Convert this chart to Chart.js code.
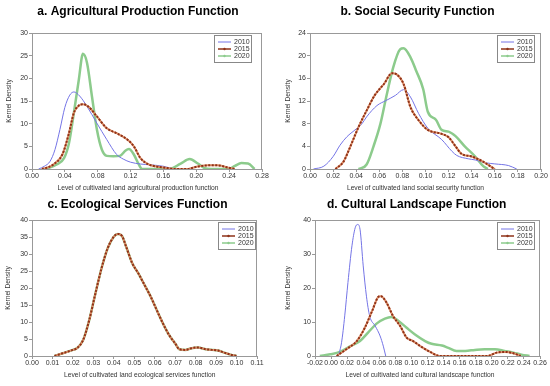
<!DOCTYPE html>
<html>
<head>
<meta charset="utf-8">
<script src="https://cdn.jsdelivr.net/npm/chart.js@4.4.0/dist/chart.umd.min.js"></script>
<style>
  body { margin: 0; background: #fff; }
  #wrap { position: relative; width: 550px; height: 386px; }
  .panel { position: absolute; width: 275px; height: 193px; }
</style>
</head>
<body>
<div id="wrap">
  <div class="panel" style="left:0;top:0"><canvas id="chartA" width="275" height="193"></canvas></div>
  <div class="panel" style="left:275px;top:0"><canvas id="chartB" width="275" height="193"></canvas></div>
  <div class="panel" style="left:0;top:193px"><canvas id="chartC" width="275" height="193"></canvas></div>
  <div class="panel" style="left:275px;top:193px"><canvas id="chartD" width="275" height="193"></canvas></div>
</div>
<script>
// Series labels
const years = ['2010', '2015', '2020'];

// a. Agricultural production - [level, density]
const agri2010 = [[0.008,0],[0.015,0.6],[0.022,1.7],[0.028,4.3],[0.034,8.7],[0.040,13.6],[0.046,16.3],[0.051,17.0],[0.058,16.1],[0.067,13.8],[0.079,10.1],[0.091,6.5],[0.103,3.2],[0.111,2.2],[0.120,1.5],[0.132,1.1],[0.145,0.9],[0.160,0.6],[0.172,0]];
const agri2015 = [[0.012,0],[0.020,0.4],[0.026,1.0],[0.037,3.2],[0.045,7.9],[0.051,12.4],[0.057,14.0],[0.062,14.3],[0.069,13.7],[0.079,11.6],[0.091,9.0],[0.103,7.9],[0.116,6.5],[0.124,5.0],[0.132,2.4],[0.142,1.0],[0.150,0.6],[0.165,0.2],[0.175,0],[0.190,0],[0.198,0.4],[0.214,0.8],[0.226,0.8],[0.239,0.3],[0.247,0]];
const agri2020 = [[0.016,0],[0.030,1.0],[0.039,2.4],[0.045,5.7],[0.051,12.4],[0.057,19.7],[0.062,25.4],[0.067,23.4],[0.073,16.0],[0.079,8.7],[0.085,4.3],[0.091,2.9],[0.099,2.8],[0.107,2.9],[0.114,4.1],[0.118,4.4],[0.124,3.2],[0.130,1.0],[0.134,0],[0.167,0],[0.181,1.2],[0.192,2.2],[0.202,1.2],[0.210,0.2],[0.218,0],[0.239,0],[0.247,0.7],[0.255,1.3],[0.263,1.2],[0.271,0]];

// b. Social security
const soc2010 = [[0.003,0],[0.012,0.5],[0.020,2.2],[0.026,4.2],[0.032,5.7],[0.039,6.9],[0.045,8.0],[0.049,9.2],[0.058,11.2],[0.066,12.1],[0.074,13.0],[0.081,14.0],[0.087,12.7],[0.094,9.8],[0.102,7.2],[0.114,5.2],[0.123,3.1],[0.127,2.4],[0.137,1.8],[0.143,1.6],[0.152,1.1],[0.160,0.9],[0.172,0.6],[0.179,0]];
const soc2015 = [[0.022,0],[0.029,1.3],[0.035,4.0],[0.042,7.4],[0.049,10.3],[0.056,13.0],[0.064,15.0],[0.071,16.9],[0.075,16.7],[0.081,15.0],[0.087,10.9],[0.094,8.6],[0.102,6.9],[0.114,6.2],[0.120,5.6],[0.126,4.0],[0.131,2.7],[0.140,2.2],[0.149,1.4],[0.156,0.5],[0.160,0]];
const soc2020 = [[0.042,0],[0.049,0.8],[0.055,4.0],[0.061,8.0],[0.066,12.7],[0.072,17.9],[0.078,21.1],[0.081,21.3],[0.087,19.7],[0.092,17.3],[0.098,14.1],[0.102,10.1],[0.109,8.7],[0.114,6.9],[0.120,6.6],[0.126,5.8],[0.134,4.0],[0.143,2.2],[0.150,0.5],[0.154,0]];

// c. Ecological services (three years nearly identical)
const eco2010 = [[0.011,0],[0.015,0.8],[0.020,1.8],[0.022,2.3],[0.025,4.7],[0.028,10.6],[0.031,18.4],[0.034,25.8],[0.037,31.7],[0.040,35.1],[0.042,35.9],[0.044,35.3],[0.046,32.2],[0.049,27.3],[0.052,24.3],[0.055,20.9],[0.058,17.5],[0.061,13.5],[0.064,9.6],[0.067,6.2],[0.070,3.7],[0.072,2.0],[0.075,1.8],[0.078,2.3],[0.081,2.5],[0.085,2.0],[0.088,1.8],[0.091,1.6],[0.094,1.0],[0.097,0.4],[0.100,0]];
const eco2015 = [[0.011,0],[0.015,0.8],[0.020,1.8],[0.022,2.3],[0.025,4.7],[0.028,10.6],[0.031,18.4],[0.034,25.8],[0.037,31.7],[0.040,35.1],[0.042,35.9],[0.044,35.3],[0.046,32.2],[0.049,27.3],[0.052,24.3],[0.055,20.9],[0.058,17.5],[0.061,13.5],[0.064,9.6],[0.067,6.2],[0.070,3.7],[0.072,2.0],[0.075,1.8],[0.078,2.3],[0.081,2.5],[0.085,2.0],[0.088,1.8],[0.091,1.6],[0.094,1.0],[0.097,0.4],[0.100,0]];
const eco2020 = [[0.011,0],[0.015,0.8],[0.020,1.8],[0.022,2.3],[0.025,4.7],[0.028,10.6],[0.031,18.4],[0.034,25.8],[0.037,31.7],[0.040,35.1],[0.042,35.9],[0.044,35.3],[0.046,32.2],[0.049,27.3],[0.052,24.3],[0.055,20.9],[0.058,17.5],[0.061,13.5],[0.064,9.6],[0.067,6.2],[0.070,3.7],[0.072,2.0],[0.075,1.8],[0.078,2.3],[0.081,2.5],[0.085,2.0],[0.088,1.8],[0.091,1.6],[0.094,1.0],[0.097,0.4],[0.100,0]];

// d. Cultural landscape
const cult2010 = [[0.009,0],[0.013,3.9],[0.017,11.8],[0.021,21.6],[0.026,32.4],[0.030,37.7],[0.033,38.7],[0.036,37.3],[0.040,26.5],[0.044,17.6],[0.048,11.8],[0.055,8.8],[0.061,5.9],[0.065,2.9],[0.068,0]];
const cult2015 = [[0.007,0],[0.019,2.0],[0.032,4.4],[0.042,8.3],[0.051,13.2],[0.059,17.4],[0.062,17.6],[0.069,15.7],[0.077,11.8],[0.086,8.8],[0.094,5.4],[0.102,4.4],[0.113,2.6],[0.125,1.0],[0.135,0],[0.195,0],[0.206,1.0],[0.216,1.2],[0.227,0.8],[0.236,0]];
const cult2020 = [[-0.014,0],[-0.001,0.5],[0.011,1.2],[0.024,2.9],[0.036,4.4],[0.046,6.9],[0.057,9.6],[0.067,11.0],[0.075,11.5],[0.084,10.3],[0.094,8.3],[0.104,6.4],[0.117,4.4],[0.125,3.6],[0.138,3.1],[0.146,2.4],[0.156,1.5],[0.167,1.5],[0.179,1.8],[0.191,2.0],[0.204,2.0],[0.216,1.5],[0.227,1.0],[0.237,0.4],[0.247,0]];

const FONT = "'Liberation Sans', Arial, sans-serif";
const TEXT = '#333';

// box round the plot area, panel title and x axis title
const framePlugin = {
    id: 'frame',
    afterDraw(chart, args, opts) {
        const a = chart.chartArea;
        const ctx = chart.ctx;
        ctx.save();
        ctx.strokeStyle = '#999';
        ctx.lineWidth = 1;
        ctx.strokeRect(a.left + 0.5, a.top + 0.5, a.right - a.left - 1, a.bottom - a.top);
        ctx.textAlign = 'center';
        ctx.textBaseline = 'middle';
        ctx.fillStyle = '#000';
        ctx.font = 'bold 12px ' + FONT;
        ctx.fillText(opts.title, opts.titleX, 12);
        ctx.fillStyle = TEXT;
        ctx.font = '6.7px ' + FONT;
        ctx.fillText(opts.xTitle, opts.xTitleX, opts.xTitleY);
        ctx.restore();
    }
};

// light under-stroke so the dashed 2015 line reads as a two-tone line
const underStrokePlugin = {
    id: 'underStroke',
    beforeDatasetDraw(chart, args) {
        if (args.index !== 1) return;
        const line = args.meta.dataset;
        const orig = line.options;
        line.options = Object.assign({}, orig, { borderDash: [], borderColor: '#e0906a', borderWidth: 2 });
        line.draw(chart.ctx, chart.chartArea);
        line.options = orig;
    }
};

// legend in a small box at the top right of the plot
const boxLegendPlugin = {
    id: 'boxLegend',
    afterDraw(chart, args, opts) {
        const a = chart.chartArea;
        const ctx = chart.ctx;
        const w = 37, h = 27;
        const x = a.right - opts.gap - w;
        const y = a.top + 2;
        ctx.save();
        ctx.fillStyle = '#fff';
        ctx.fillRect(x, y, w, h);
        ctx.strokeStyle = '#888';
        ctx.lineWidth = 1;
        ctx.strokeRect(x + 0.5, y + 0.5, w, h);
        ctx.font = '7px ' + FONT;
        ctx.textBaseline = 'middle';
        chart.data.datasets.forEach((ds, i) => {
            const ly = y + 7 + i * 7;
            ctx.strokeStyle = ds.borderColor;
            ctx.lineWidth = Math.min(ds.borderWidth, 1.5);
            ctx.beginPath();
            ctx.moveTo(x + 4, ly);
            ctx.lineTo(x + 17, ly);
            ctx.stroke();
            if (i > 0) {
                ctx.fillStyle = ds.borderColor;
                ctx.beginPath();
                ctx.arc(x + 10.5, ly, 1.2, 0, Math.PI * 2);
                ctx.fill();
            }
            ctx.fillStyle = TEXT;
            ctx.fillText(ds.label, x + 20, ly + 0.5);
        });
        ctx.restore();
    }
};

function toPoints(pairs) {
    return pairs.map(p => ({ x: p[0], y: p[1] }));
}

function makePanel(id, cfg) {
    const ctx = document.getElementById(id).getContext('2d');
    return new Chart(ctx, {
        type: 'line',
        data: {
            datasets: [
                {
                    label: years[0],
                    data: toPoints(cfg.series[0]),
                    borderColor: '#7474e6',
                    borderWidth: 1,
                    pointRadius: 0,
                    cubicInterpolationMode: 'monotone',
                    order: 1
                },
                {
                    label: years[1],
                    data: toPoints(cfg.series[1]),
                    borderColor: '#8e3218',
                    borderWidth: 2,
                    borderDash: [2, 1.5],
                    pointRadius: 0,
                    cubicInterpolationMode: 'monotone',
                    order: 0
                },
                {
                    label: years[2],
                    data: toPoints(cfg.series[2]),
                    borderColor: '#8ccb8c',
                    borderWidth: 2.5,
                    pointRadius: 0,
                    cubicInterpolationMode: 'monotone',
                    order: 2
                }
            ]
        },
        options: {
            responsive: false,
            animation: false,
            layout: { padding: { left: 0, right: 275 - cfg.right, top: cfg.top, bottom: 0 } },
            plugins: {
                legend: { display: false },
                tooltip: { enabled: false },
                boxLegend: { gap: cfg.legendGap },
                frame: { title: cfg.title, titleX: cfg.titleX, xTitle: cfg.xTitle, xTitleX: cfg.xTitleX, xTitleY: cfg.xTitleY }
            },
            scales: {
                x: {
                    type: 'linear',
                    min: cfg.xMin,
                    max: cfg.xMax,
                    afterFit: s => { s.height = 193 - cfg.bottom; },
                    grid: { display: true, drawOnChartArea: false, drawTicks: true, tickLength: 3, color: '#999' },
                    border: { display: true, color: '#999' },
                    ticks: {
                        stepSize: cfg.xStep,
                        autoSkip: false,
                        maxRotation: 0,
                        padding: 0,
                        color: TEXT,
                        font: { family: FONT, size: 7 },
                        callback: v => v.toFixed(2)
                    }
                },
                y: {
                    min: 0,
                    max: cfg.yMax,
                    afterFit: s => { s.width = cfg.left; },
                    grid: { display: true, drawOnChartArea: false, drawTicks: true, tickLength: 3, color: '#999' },
                    border: { display: true, color: '#999' },
                    ticks: {
                        stepSize: cfg.yStep,
                        autoSkip: false,
                        padding: 1,
                        color: TEXT,
                        font: { family: FONT, size: 7 }
                    },
                    title: {
                        display: true,
                        text: 'Kernel Density',
                        color: TEXT,
                        font: { family: FONT, size: 6.7 },
                        padding: { top: cfg.yTitleLeft, bottom: 0 }
                    }
                }
            }
        },
        plugins: [underStrokePlugin, framePlugin, boxLegendPlugin]
    });
}

makePanel('chartA', {
    title: 'a. Agricultural Production Function',
    xTitle: 'Level of cultivated land agricultural production function',
    series: [agri2010, agri2015, agri2020],
    xMin: 0, xMax: 0.28, xStep: 0.04, yMax: 30, yStep: 5,
    left: 32, right: 262, top: 33, bottom: 169,
    titleX: 138, xTitleX: 138, xTitleY: 188,
    legendGap: 11, yTitleLeft: 5
});

makePanel('chartB', {
    title: 'b. Social Security Function',
    xTitle: 'Level of cultivated land social security function',
    series: [soc2010, soc2015, soc2020],
    xMin: 0, xMax: 0.20, xStep: 0.02, yMax: 24, yStep: 4,
    left: 35, right: 266, top: 33, bottom: 169,
    titleX: 142.5, xTitleX: 140.5, xTitleY: 188,
    legendGap: 7, yTitleLeft: 9
});

makePanel('chartC', {
    title: 'c. Ecological Services Function',
    xTitle: 'Level of cultivated land ecological services function',
    series: [eco2010, eco2015, eco2020],
    xMin: 0, xMax: 0.11, xStep: 0.01, yMax: 40, yStep: 5,
    left: 32, right: 257, top: 27, bottom: 163,
    titleX: 137.5, xTitleX: 139.7, xTitleY: 182,
    legendGap: 2, yTitleLeft: 4
});

makePanel('chartD', {
    title: 'd. Cultural Landscape Function',
    xTitle: 'Level of cultivated land cultural landscape function',
    series: [cult2010, cult2015, cult2020],
    xMin: -0.02, xMax: 0.26, xStep: 0.02, yMax: 40, yStep: 10,
    left: 40, right: 265, top: 27, bottom: 163,
    titleX: 141.7, xTitleX: 145, xTitleY: 182,
    legendGap: 6, yTitleLeft: 9
});
</script>
</body>
</html>
